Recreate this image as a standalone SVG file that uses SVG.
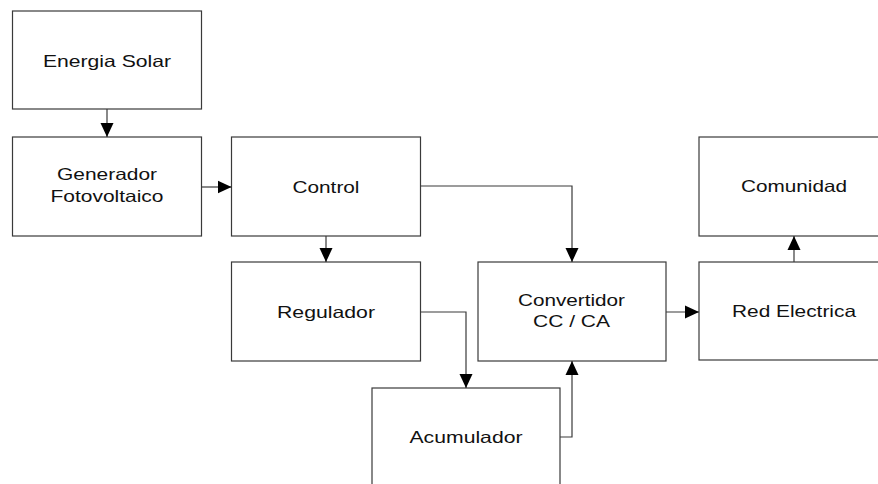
<svg xmlns="http://www.w3.org/2000/svg" width="878" height="484" viewBox="0 0 878 484">
<style>
.box{fill:#fff;stroke:#3a3a3a;stroke-width:1.2}
.lbl{font-family:"Liberation Sans",Arial,sans-serif;font-size:16.5px;fill:#111;text-anchor:middle}
.con{fill:none;stroke:#3a3a3a;stroke-width:1.2}
</style>
<defs>
<marker id="ah" markerUnits="userSpaceOnUse" markerWidth="14" markerHeight="14" viewBox="0 0 14 14" refX="14" refY="7" orient="auto">
<path d="M0,0.5 L14,7 L0,13.5 Z" fill="#000"/>
</marker>
</defs>
<rect width="878" height="484" fill="#fff"/>
<g id="energia"><rect class="box" x="12.5" y="11" width="189" height="98"/><text class="lbl" x="107" y="67" textLength="128" lengthAdjust="spacingAndGlyphs">Energia Solar</text></g>
<g id="generador"><rect class="box" x="12.5" y="137" width="189" height="99"/><text class="lbl" x="107" y="180" textLength="100" lengthAdjust="spacingAndGlyphs">Generador</text><text class="lbl" x="107" y="202" textLength="113" lengthAdjust="spacingAndGlyphs">Fotovoltaico</text></g>
<g id="control"><rect class="box" x="231.5" y="137" width="189" height="99"/><text class="lbl" x="326" y="193" textLength="67" lengthAdjust="spacingAndGlyphs">Control</text></g>
<g id="regulador"><rect class="box" x="231.5" y="262" width="189" height="99"/><text class="lbl" x="326" y="318" textLength="98" lengthAdjust="spacingAndGlyphs">Regulador</text></g>
<g id="convertidor"><rect class="box" x="478" y="262" width="188" height="99"/><text class="lbl" x="571.5" y="306" textLength="107" lengthAdjust="spacingAndGlyphs">Convertidor</text><text class="lbl" x="571.5" y="327" textLength="77" lengthAdjust="spacingAndGlyphs">CC / CA</text></g>
<g id="red"><rect class="box" x="699" y="262" width="190" height="98"/><text class="lbl" x="794" y="317" textLength="124" lengthAdjust="spacingAndGlyphs">Red Electrica</text></g>
<g id="comunidad"><rect class="box" x="699" y="137" width="190" height="99"/><text class="lbl" x="794" y="192" textLength="106" lengthAdjust="spacingAndGlyphs">Comunidad</text></g>
<g id="acumulador"><rect class="box" x="372" y="388" width="188" height="120"/><text class="lbl" x="466" y="443" textLength="113" lengthAdjust="spacingAndGlyphs">Acumulador</text></g>
<g id="connectors">
<path class="con" d="M107,109 V137" marker-end="url(#ah)"/>
<path class="con" d="M201.5,187 H231.5" marker-end="url(#ah)"/>
<path class="con" d="M326,236 V262" marker-end="url(#ah)"/>
<path class="con" d="M420.5,186 H572 V262" marker-end="url(#ah)"/>
<path class="con" d="M420.5,312 H466 V388" marker-end="url(#ah)"/>
<path class="con" d="M560,437 H572 V361" marker-end="url(#ah)"/>
<path class="con" d="M666,312 H699" marker-end="url(#ah)"/>
<path class="con" d="M794,262 V236" marker-end="url(#ah)"/>
</g>
</svg>
